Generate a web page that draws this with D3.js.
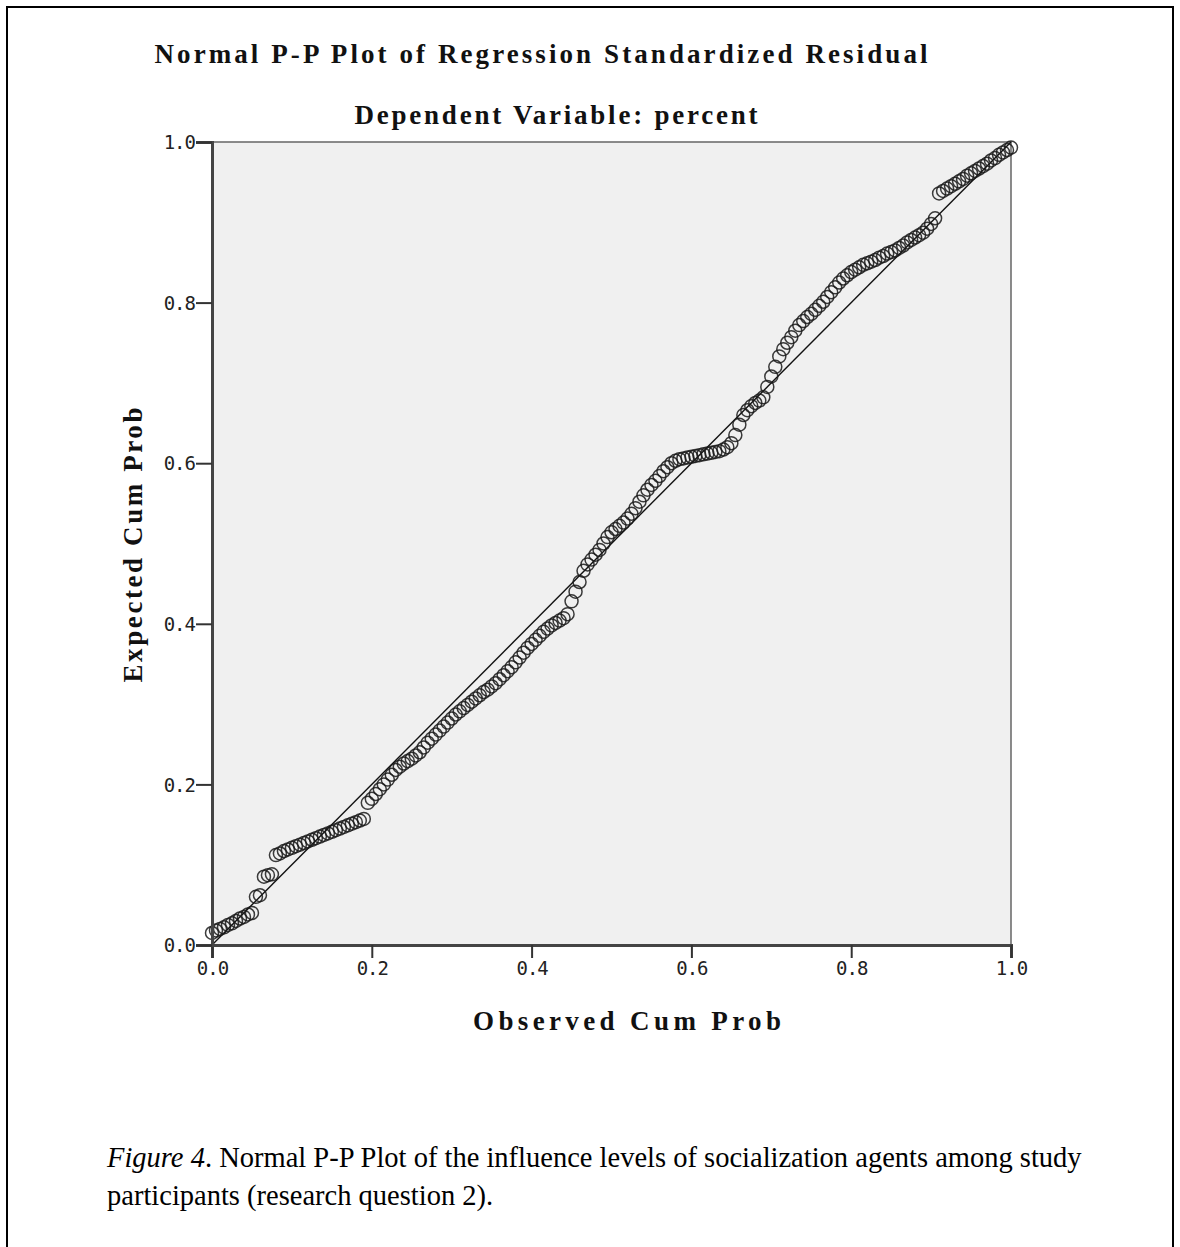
<!DOCTYPE html>
<meta charset="utf-8">
<title>Normal P-P Plot</title>
<style>
    body { margin: 0; background: #fff; }
    .tick text { font-family: "DejaVu Sans Mono", monospace; font-size: 19px; letter-spacing: -1px; fill: #222; }
    .title { font-family: "Liberation Serif", "Times New Roman", serif; font-weight: bold; font-size: 27px; text-anchor: middle; fill: #111; }
    .caption { font-family: "Liberation Serif", "Times New Roman", serif; font-size: 28.5px; fill: #000; }
</style>

<body>
    <script src="https://d3js.org/d3.v7.min.js" charset="utf-8"></script>
    <script>
        // observed cum prob / expected cum prob
        var observed = [
            0.000, 0.005, 0.010, 0.015, 0.020, 0.025, 0.030, 0.035, 0.040, 0.045,
            0.050, 0.055, 0.060, 0.065, 0.070, 0.075, 0.080, 0.085, 0.090, 0.095,
            0.100, 0.105, 0.110, 0.115, 0.120, 0.125, 0.130, 0.135, 0.140, 0.145,
            0.150, 0.155, 0.160, 0.165, 0.170, 0.175, 0.180, 0.185, 0.190, 0.195,
            0.200, 0.205, 0.210, 0.215, 0.220, 0.225, 0.230, 0.235, 0.240, 0.245,
            0.250, 0.255, 0.260, 0.265, 0.270, 0.275, 0.280, 0.285, 0.290, 0.295,
            0.300, 0.305, 0.310, 0.315, 0.320, 0.325, 0.330, 0.335, 0.340, 0.345,
            0.350, 0.355, 0.360, 0.365, 0.370, 0.375, 0.380, 0.385, 0.390, 0.395,
            0.400, 0.405, 0.410, 0.415, 0.420, 0.425, 0.430, 0.435, 0.440, 0.445,
            0.450, 0.455, 0.460, 0.465, 0.470, 0.475, 0.480, 0.485, 0.490, 0.495,
            0.500, 0.505, 0.510, 0.515, 0.520, 0.525, 0.530, 0.535, 0.540, 0.545,
            0.550, 0.555, 0.560, 0.565, 0.570, 0.575, 0.580, 0.585, 0.590, 0.595,
            0.600, 0.605, 0.610, 0.615, 0.620, 0.625, 0.630, 0.635, 0.640, 0.645,
            0.650, 0.655, 0.660, 0.665, 0.670, 0.675, 0.680, 0.685, 0.690, 0.695,
            0.700, 0.705, 0.710, 0.715, 0.720, 0.725, 0.730, 0.735, 0.740, 0.745,
            0.750, 0.755, 0.760, 0.765, 0.770, 0.775, 0.780, 0.785, 0.790, 0.795,
            0.800, 0.805, 0.810, 0.815, 0.820, 0.825, 0.830, 0.835, 0.840, 0.845,
            0.850, 0.855, 0.860, 0.865, 0.870, 0.875, 0.880, 0.885, 0.890, 0.895,
            0.900, 0.905, 0.910, 0.915, 0.920, 0.925, 0.930, 0.935, 0.940, 0.945,
            0.950, 0.955, 0.960, 0.965, 0.970, 0.975, 0.980, 0.985, 0.990, 0.995,
            1.000
        ];
        var expected = [
            0.015, 0.018, 0.020, 0.022, 0.025, 0.027, 0.030, 0.033, 0.035, 0.038,
            0.040, 0.060, 0.062, 0.085, 0.087, 0.088, 0.112, 0.114, 0.117, 0.119,
            0.121, 0.123, 0.125, 0.127, 0.129, 0.131, 0.133, 0.135, 0.137, 0.139,
            0.141, 0.143, 0.145, 0.147, 0.149, 0.151, 0.153, 0.155, 0.157, 0.177,
            0.182, 0.188, 0.194, 0.200, 0.206, 0.212, 0.218, 0.222, 0.226, 0.229,
            0.232, 0.236, 0.240, 0.246, 0.252, 0.257, 0.262, 0.267, 0.272, 0.277,
            0.282, 0.287, 0.291, 0.295, 0.299, 0.303, 0.307, 0.311, 0.315, 0.318,
            0.322, 0.326, 0.331, 0.336, 0.341, 0.346, 0.352, 0.358, 0.364, 0.370,
            0.375, 0.380, 0.385, 0.390, 0.394, 0.398, 0.401, 0.404, 0.407, 0.412,
            0.428, 0.440, 0.452, 0.466, 0.474, 0.480, 0.486, 0.492, 0.500, 0.508,
            0.514, 0.518, 0.522, 0.526, 0.531, 0.537, 0.544, 0.552, 0.560, 0.567,
            0.573, 0.578, 0.584, 0.590, 0.595, 0.600, 0.603, 0.605, 0.606, 0.607,
            0.608, 0.609, 0.610, 0.611, 0.612, 0.613, 0.614, 0.615, 0.617, 0.620,
            0.625, 0.635, 0.648, 0.660, 0.666, 0.671, 0.675, 0.678, 0.682, 0.695,
            0.708, 0.720, 0.733, 0.742, 0.750, 0.757, 0.765, 0.772, 0.777, 0.782,
            0.786, 0.791, 0.796, 0.801, 0.807, 0.813, 0.819, 0.825, 0.830, 0.834,
            0.838, 0.841, 0.844, 0.847, 0.849, 0.851, 0.853, 0.856, 0.858, 0.861,
            0.863, 0.865, 0.868, 0.871, 0.875, 0.878, 0.881, 0.884, 0.887, 0.892,
            0.898, 0.905, 0.936, 0.939, 0.942, 0.945, 0.948, 0.951, 0.954, 0.958,
            0.961, 0.964, 0.967, 0.970, 0.973, 0.977, 0.980, 0.984, 0.987, 0.990,
            0.993
        ];
        var tickValues = [0, 0.2, 0.4, 0.6, 0.8, 1.0];

        var width = 1180,
            height = 1247;

        var svg = d3.select("body").append("svg")
            .attr("width", width)
            .attr("height", height);

        // outer figure border
        svg.append("rect")
            .attr("x", 7).attr("y", 7)
            .attr("width", 1166).attr("height", 1260)
            .style("fill", "none")
            .style("stroke", "#000")
            .style("stroke-width", 2);

        var plotLeft = 212, plotRight = 1011, plotTop = 142, plotBottom = 945;

        var x = d3.scaleLinear().domain([0, 1]).range([plotLeft, plotRight]);
        var y = d3.scaleLinear().domain([0, 1]).range([plotBottom, plotTop]);

        // plot area
        svg.append("rect")
            .attr("x", plotLeft).attr("y", plotTop)
            .attr("width", plotRight - plotLeft).attr("height", plotBottom - plotTop)
            .style("fill", "#f0f0f0")
            .style("stroke", "#666")
            .style("stroke-width", 1.5);

        // reference line
        svg.append("line")
            .attr("x1", x(0)).attr("y1", y(0))
            .attr("x2", x(1)).attr("y2", y(1))
            .style("stroke", "#111")
            .style("stroke-width", 1.4);

        // points
        svg.append("g").selectAll("circle")
            .data(observed)
            .enter().append("circle")
            .attr("cx", function (d) { return x(d); })
            .attr("cy", function (d, i) { return y(expected[i]); })
            .attr("r", 6.5)
            .style("fill", "none")
            .style("stroke", "#1a1a1a")
            .style("stroke-width", 1.5)
            .style("stroke-opacity", 0.85);

        var fmt = d3.format(".1f");

        var xAxis = svg.append("g")
            .attr("transform", "translate(0," + plotBottom + ")")
            .call(d3.axisBottom(x).tickValues(tickValues).tickFormat(fmt).tickSize(13).tickPadding(4));
        var yAxis = svg.append("g")
            .attr("transform", "translate(" + plotLeft + ",0)")
            .call(d3.axisLeft(y).tickValues(tickValues).tickFormat(fmt).tickSize(16).tickPadding(1));

        [xAxis, yAxis].forEach(function (a) {
            a.select(".domain").style("stroke", "#444").style("stroke-width", 3);
            a.selectAll(".tick line").style("stroke", "#333").style("stroke-width", 2);
        });
        yAxis.selectAll(".tick text").attr("dy", "0.35em");

        // titles (stretched to the widths seen in the picture)
        function title(tx, ty, txt, len) {
            return svg.append("text").attr("class", "title")
                .attr("x", tx).attr("y", ty)
                .attr("textLength", len).attr("lengthAdjust", "spacing")
                .text(txt);
        }
        title(541, 63, "Normal P-P Plot of Regression Standardized Residual", 773);
        title(556, 124, "Dependent Variable: percent", 403);
        title(627, 1030, "Observed Cum Prob", 308);
        title(0, 0, "Expected Cum Prob", 275)
            .attr("transform", "translate(142,545) rotate(-90)");

        // caption
        var cap = svg.append("text").attr("class", "caption")
            .attr("x", 107).attr("y", 1167);
        cap.append("tspan").style("font-style", "italic").text("Figure 4");
        cap.append("tspan").text(". Normal P-P Plot of the influence levels of socialization agents among study");
        svg.append("text").attr("class", "caption")
            .attr("x", 107).attr("y", 1205)
            .text("participants (research question 2).");
    </script>
</body>
